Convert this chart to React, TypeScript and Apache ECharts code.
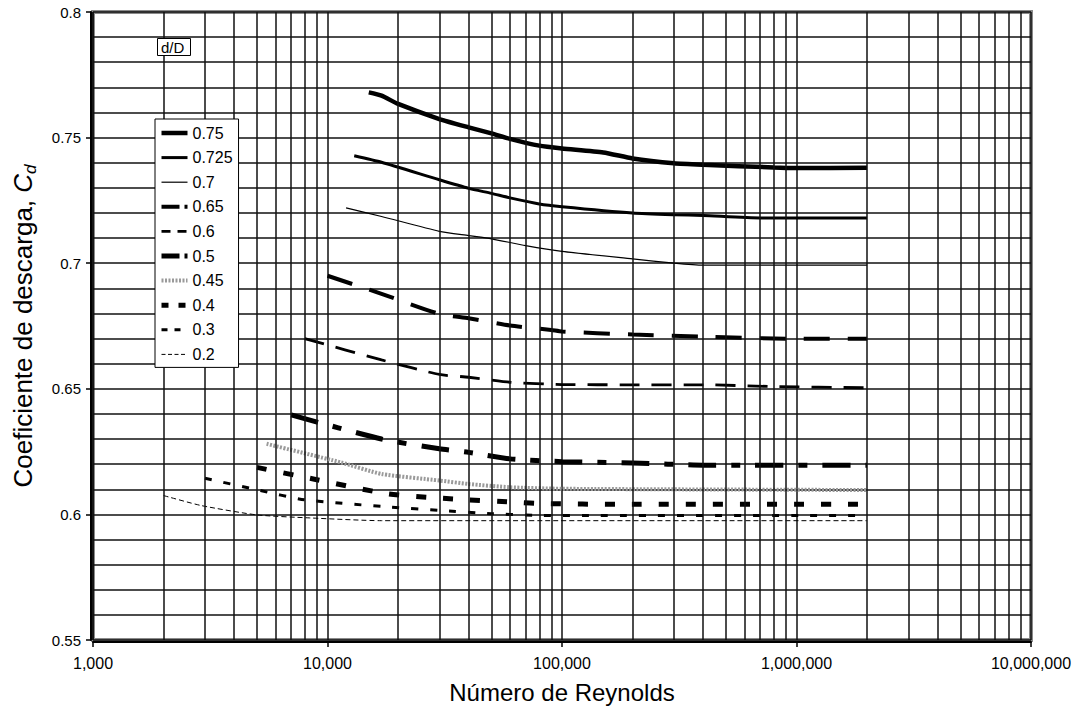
import React, { useEffect, useRef } from 'react';
import * as echarts from 'echarts';

// d/D ratios (legend order)
const ratioNames = ['0.75', '0.725', '0.7', '0.65', '0.6', '0.5', '0.45', '0.4', '0.3', '0.2'];

// Reynolds numbers and discharge coefficients
const re075 = [15000, 17000, 20000, 30000, 40000, 50000, 60000, 80000, 100000, 150000, 200000, 300000, 400000, 800000, 1000000, 2000000];
const cd075 = [0.768, 0.7667, 0.7634, 0.7574, 0.7541, 0.7517, 0.7495, 0.7468, 0.7457, 0.7441, 0.7417, 0.7398, 0.7392, 0.7381, 0.7379, 0.738];

const re0725 = [13000, 17000, 30000, 40000, 50000, 60000, 80000, 100000, 200000, 300000, 400000, 700000, 2000000];
const cd0725 = [0.7428, 0.7402, 0.7332, 0.7298, 0.7278, 0.726, 0.7236, 0.7225, 0.72, 0.7193, 0.719, 0.718, 0.718];

const re07 = [12000, 17000, 30000, 40000, 50000, 70000, 100000, 200000, 300000, 400000, 2000000];
const cd07 = [0.722, 0.7186, 0.7127, 0.711, 0.7097, 0.707, 0.7047, 0.7017, 0.7, 0.6992, 0.6992];

const re065 = [10000, 17000, 30000, 40000, 60000, 90000, 100000, 200000, 400000, 1000000, 2000000];
const cd065 = [0.695, 0.6878, 0.6798, 0.6781, 0.6752, 0.6734, 0.6728, 0.6716, 0.6708, 0.6699, 0.6699];

const re06 = [8000, 17000, 30000, 40000, 60000, 100000, 200000, 400000, 800000, 2000000];
const cd06 = [0.67, 0.6615, 0.6557, 0.6546, 0.6526, 0.6517, 0.6516, 0.6516, 0.6509, 0.6504];

const re05 = [7000, 17000, 30000, 40000, 60000, 100000, 200000, 400000, 2000000];
const cd05 = [0.6396, 0.63, 0.6261, 0.6247, 0.6221, 0.621, 0.6205, 0.6196, 0.6196];

const re045 = [5500, 11400, 17000, 30000, 40000, 60000, 100000, 2000000];
const cd045 = [0.6281, 0.6207, 0.6161, 0.6135, 0.6121, 0.6108, 0.6102, 0.6097];

const re04 = [5000, 8800, 18000, 30000, 40000, 64000, 83000, 180000, 2000000];
const cd04 = [0.6187, 0.614, 0.6082, 0.6065, 0.6058, 0.6048, 0.6043, 0.604, 0.604];

const re03 = [3000, 5000, 8000, 18600, 30000, 50000, 80000, 2000000];
const cd03 = [0.6144, 0.6098, 0.6058, 0.6029, 0.6016, 0.6003, 0.5996, 0.5996];

const re02 = [2000, 2900, 5000, 8400, 17000, 2000000];
const cd02 = [0.6075, 0.6035, 0.5998, 0.5986, 0.5975, 0.5975];

const reData = [re075, re0725, re07, re065, re06, re05, re045, re04, re03, re02];
const cdData = [cd075, cd0725, cd07, cd065, cd06, cd05, cd045, cd04, cd03, cd02];

// axis ranges / ticks
const xMin = 1000;
const xMax = 10000000;
const yMin = 0.55;
const yMax = 0.8;
const yInterval = 0.05;
const decades = [1000, 10000, 100000, 1000000];
const minorMultipliers = [2, 3, 4, 5, 6, 7, 8, 9];

// line styles (not data)
const lineStyles: any[] = [
  { width: 4.5, type: 'solid', color: '#000' },
  { width: 3, type: 'solid', color: '#000' },
  { width: 1.2, type: 'solid', color: '#000' },
  { width: 4, type: [26, 18], color: '#000' },
  { width: 2.8, type: [20, 12], color: '#000' },
  { width: 5, type: [28, 15, 9, 15], color: '#000' },
  { width: 4, type: [2, 1.5], color: '#9a9a9a' },
  { width: 5, type: [10, 17], color: '#000' },
  { width: 3, type: [7, 12], color: '#000' },
  { width: 1, type: [5, 3], color: '#000' },
];
const legendDash: any[] = [
  'solid', 'solid', 'solid', [18, 5, 4, 5], [9, 7], [18, 5, 4, 5], [2, 1.5], [7, 10], [6, 7], [4, 2.5],
];

const FONT = 'Liberation Sans, Arial, sans-serif';

export default function App() {
  const ref = useRef<HTMLDivElement>(null);

  useEffect(() => {
    document.body.style.margin = '0';
    const chart = echarts.init(ref.current!, null, { renderer: 'svg' });

    const minorXs: number[] = [];
    decades.forEach((d) => minorMultipliers.forEach((m) => minorXs.push(d * m)));

    const series: any[] = [
      {
        name: '__grid',
        type: 'line',
        data: [],
        silent: true,
        z: 1,
        markLine: {
          silent: true,
          symbol: ['none', 'none'],
          label: { show: false },
          lineStyle: { color: '#111', width: 1.5, type: 'solid' },
          emphasis: { disabled: true },
          animation: false,
          data: minorXs.map((v) => ({ xAxis: v })),
        },
      },
    ];

    ratioNames.forEach((name, i) => {
      series.push({
        name,
        type: 'line',
        data: reData[i].map((r, j) => [r, cdData[i][j]]),
        symbol: 'none',
        showSymbol: false,
        smooth: 0.2,
        z: 3,
        lineStyle: { ...lineStyles[i], cap: 'butt' },
        itemStyle: { color: lineStyles[i].color },
        emphasis: { disabled: true },
      });
    });

    chart.setOption({
      animation: false,
      backgroundColor: '#fff',
      title: {
        text: 'd/D',
        left: 157,
        top: 38,
        padding: [2, 6, 1, 4],
        borderColor: '#000',
        borderWidth: 1,
        backgroundColor: '#fff',
        textStyle: { fontSize: 15, fontWeight: 'normal', color: '#000', fontFamily: FONT },
        z: 6,
      },
      legend: {
        data: ratioNames.map((n, i) => ({
          name: n,
          lineStyle: {
            width: lineStyles[i].width,
            type: legendDash[i],
            color: lineStyles[i].color,
            cap: 'butt',
          },
        })),
        orient: 'vertical',
        left: 155,
        top: 119,
        padding: [5, 6, 4, 4],
        itemGap: 6.6,
        itemWidth: 26,
        itemHeight: 18,
        backgroundColor: '#fff',
        borderColor: '#000',
        borderWidth: 1,
        itemStyle: { color: 'rgba(0,0,0,0)', borderColor: 'rgba(0,0,0,0)', borderWidth: 0 },
        textStyle: { fontSize: 16, lineHeight: 18, color: '#000', fontFamily: FONT },
        selectedMode: false,
        z: 6,
      },
      grid: {
        left: 93,
        right: 44,
        top: 12,
        bottom: 74,
        outerBoundsMode: 'none',
        containLabel: false,
        show: true,
        borderColor: '#8a8a8a',
        borderWidth: 4,
        backgroundColor: '#fff',
      },
      xAxis: {
        type: 'log',
        logBase: 10,
        min: xMin,
        max: xMax,
        offset: 2,
        name: 'Número de Reynolds',
        nameLocation: 'middle',
        nameGap: 38,
        nameTextStyle: { fontSize: 24, color: '#000', fontFamily: FONT },
        axisLine: { show: true, lineStyle: { color: '#000', width: 2 } },
        axisTick: { show: true, length: 5, lineStyle: { color: '#000', width: 1.5 } },
        axisLabel: {
          fontSize: 16,
          color: '#000',
          fontFamily: FONT,
          margin: 13,
          showMinLabel: true,
          showMaxLabel: true,
          formatter: (v: number) => Number(v).toLocaleString('en-US'),
        },
        splitLine: { show: true, lineStyle: { color: '#111', width: 1.5 } },
      },
      yAxis: {
        type: 'value',
        min: yMin,
        max: yMax,
        interval: yInterval,
        offset: 2,
        name: 'Coeficiente de descarga, {c|C}{d|d}',
        nameLocation: 'middle',
        nameGap: 52,
        nameTextStyle: {
          fontSize: 26,
          color: '#000',
          fontFamily: FONT,
          lineHeight: 32,
          rich: {
            c: { fontSize: 26, fontStyle: 'italic', color: '#000', fontFamily: FONT, lineHeight: 32 },
            d: { fontSize: 17, fontStyle: 'italic', color: '#000', fontFamily: FONT, lineHeight: 18, verticalAlign: 'bottom' },
          },
        },
        axisLine: { show: true, lineStyle: { color: '#000', width: 2 } },
        axisTick: { show: true, length: 5, lineStyle: { color: '#000', width: 1.5 } },
        axisLabel: {
          fontSize: 15,
          color: '#000',
          fontFamily: FONT,
          margin: 10,
          formatter: (v: number) => String(Math.round(v * 100) / 100),
        },
        splitLine: { show: true, lineStyle: { color: '#111', width: 1.5 } },
        minorTick: { show: false, splitNumber: 5 },
        minorSplitLine: { show: true, lineStyle: { color: '#111', width: 1.5 } },
      },
      series,
    });

    return () => chart.dispose();
  }, []);

  return (
    <div
      ref={ref}
      style={{ position: 'absolute', left: 0, top: 0, width: 1075, height: 714 }}
    />
  );
}
